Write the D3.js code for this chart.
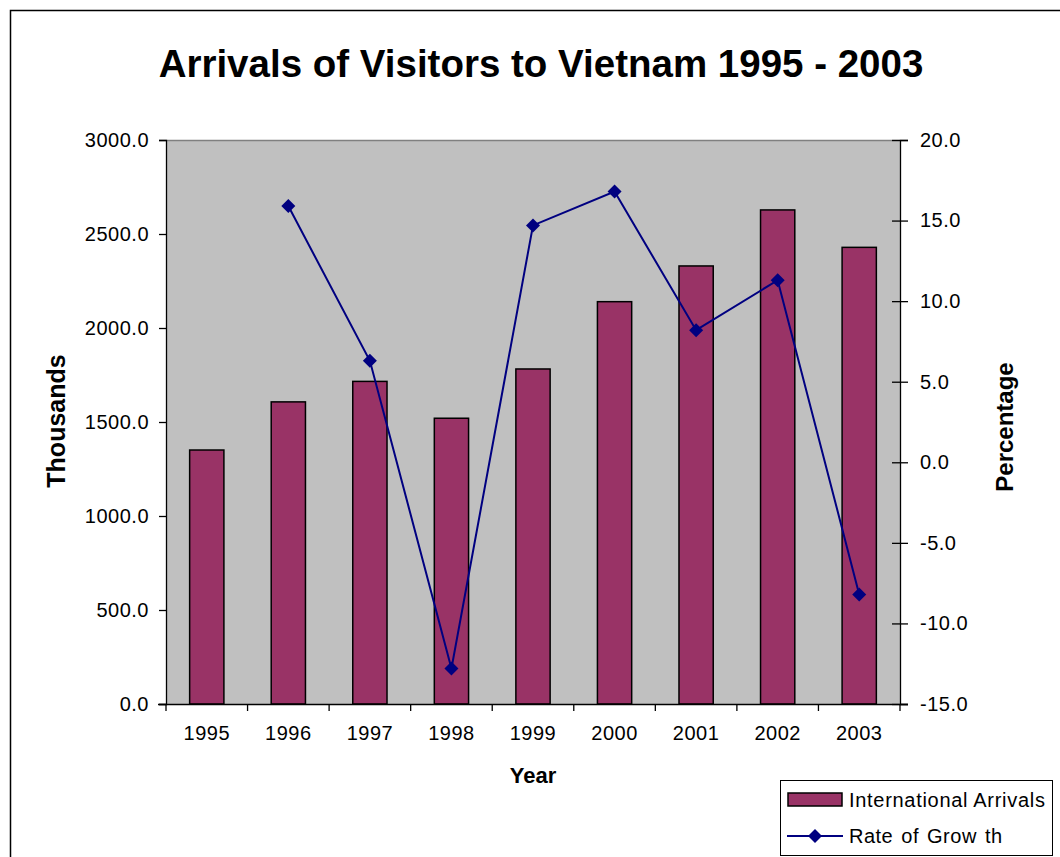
<!DOCTYPE html>
<html><head><meta charset="utf-8">
<script src="https://cdn.jsdelivr.net/npm/d3@7"></script>
<style>body{margin:0;background:#fff}svg{display:block;font-family:"Liberation Sans",Arial,sans-serif}</style>
</head><body>
<svg id="c" width="1060" height="857"></svg>
<script>
const years = ["1995","1996","1997","1998","1999","2000","2001","2002","2003"];
const arrivals = [1351, 1607, 1716, 1520, 1782, 2140, 2330, 2628, 2429];
const growth = [null, 15.9, 6.3, -12.8, 14.7, 16.8, 8.2, 11.3, -8.2];
const leftTicks = [0, 500, 1000, 1500, 2000, 2500, 3000];
const rightTicks = [-15, -10, -5, 0, 5, 10, 15, 20];

const svg = d3.select("#c");
const L = 166, R = 900, T = 140, B = 704;
const fmt = d => d.toFixed(1);

// outer chart border
svg.append("rect").attr("x", 10.5).attr("y", 10.5).attr("width", 1100).attr("height", 900)
  .attr("fill", "#fff").attr("stroke", "#000").attr("stroke-width", 1.5);

svg.append("text").attr("x", 541).attr("y", 77).attr("text-anchor", "middle")
  .attr("font-size", 38.5).attr("font-weight", "bold").text("Arrivals of Visitors to Vietnam 1995 - 2003");

const x = d3.scaleBand().domain(years).range([L, R]).paddingInner(0).paddingOuter(0);
const yL = d3.scaleLinear().domain([0, 3000]).range([B, T]);
const yR = d3.scaleLinear().domain([-15, 20]).range([B, T]);

svg.append("rect").attr("x", L).attr("y", T).attr("width", R - L).attr("height", B - T).attr("fill", "#C0C0C0");
svg.append("line").attr("x1", L).attr("x2", R).attr("y1", T + 0.5).attr("y2", T + 0.5).attr("stroke", "#808080").attr("stroke-width", 1.5);

const bw = x.bandwidth() * 0.42;
svg.append("g").selectAll("rect").data(years).join("rect")
  .attr("x", d => x(d) + (x.bandwidth() - bw) / 2)
  .attr("y", (d, i) => yL(arrivals[i]))
  .attr("width", bw)
  .attr("height", (d, i) => B - yL(arrivals[i]))
  .attr("fill", "#993366").attr("stroke", "#000").attr("stroke-width", 1.5);

// axes
const gl = svg.append("g").attr("transform", `translate(${L},0)`)
  .call(d3.axisLeft(yL).tickValues(leftTicks).tickFormat(fmt).tickSize(7).tickPadding(10));
const gr = svg.append("g").attr("transform", `translate(${R},0)`)
  .call(d3.axisRight(yR).tickValues(rightTicks).tickFormat(fmt).tickSize(8).tickPadding(12));
gr.selectAll(".tick line").attr("x1", -8);
const gx = svg.append("g").attr("transform", `translate(0,${B})`)
  .call(d3.axisBottom(x).tickSize(0).tickPadding(22));
// category boundary ticks
svg.append("g").selectAll("line").data(years.concat(["end"])).join("line")
  .attr("x1", (d, i) => L + i * x.bandwidth()).attr("x2", (d, i) => L + i * x.bandwidth())
  .attr("y1", B).attr("y2", B + 7).attr("stroke", "#000").attr("stroke-width", 1.3);
[gl, gr, gx].forEach(g => {
  g.selectAll("text").attr("font-size", 20).attr("letter-spacing", 0.5)
    .attr("font-family", "Liberation Sans, Arial, sans-serif").attr("fill", "#000");
  g.selectAll("path,line").attr("stroke", "#000").attr("stroke-width", 1.3);
});
gx.select(".domain").attr("d", `M${L - 8},0.5H${R + 8}`);

// growth line
const pts = years.map((d, i) => ({ x: x(d) + x.bandwidth() / 2, v: growth[i] })).filter(p => p.v !== null);
svg.append("path").datum(pts)
  .attr("d", d3.line().x(p => p.x).y(p => yR(p.v)))
  .attr("fill", "none").attr("stroke", "#000080").attr("stroke-width", 2);
svg.append("g").selectAll("path").data(pts).join("path")
  .attr("transform", p => `translate(${p.x},${yR(p.v)})`)
  .attr("d", "M0,-7L7,0L0,7L-7,0Z").attr("fill", "#000080");

// axis titles
svg.append("text").attr("transform", "translate(65,421) rotate(-90)").attr("text-anchor", "middle")
  .attr("font-size", 25).attr("font-weight", "bold").text("Thousands");
svg.append("text").attr("transform", "translate(1013,427) rotate(-90)").attr("text-anchor", "middle")
  .attr("font-size", 24).attr("font-weight", "bold").text("Percentage");
svg.append("text").attr("x", 533).attr("y", 783).attr("text-anchor", "middle")
  .attr("font-size", 22).attr("font-weight", "bold").text("Year");

// legend
const lg = svg.append("g");
lg.append("rect").attr("x", 780.5).attr("y", 780.5).attr("width", 272).attr("height", 75)
  .attr("fill", "#fff").attr("stroke", "#000").attr("stroke-width", 1);
lg.append("rect").attr("x", 788).attr("y", 793).attr("width", 54).attr("height", 13)
  .attr("fill", "#993366").attr("stroke", "#000").attr("stroke-width", 1.5);
lg.append("text").attr("x", 849).attr("y", 807).attr("font-size", 20).attr("letter-spacing", 0.7).text("International Arrivals");
lg.append("line").attr("x1", 787).attr("x2", 843).attr("y1", 836).attr("y2", 836).attr("stroke", "#000080").attr("stroke-width", 2);
lg.append("path").attr("transform", "translate(815,836)").attr("d", "M0,-7L7,0L0,7L-7,0Z").attr("fill", "#000080");
lg.append("text").attr("x", 849).attr("y", 843).attr("font-size", 20).attr("letter-spacing", 0.5).attr("word-spacing", 2).text("Rate of Grow th");
</script>
</body></html>
